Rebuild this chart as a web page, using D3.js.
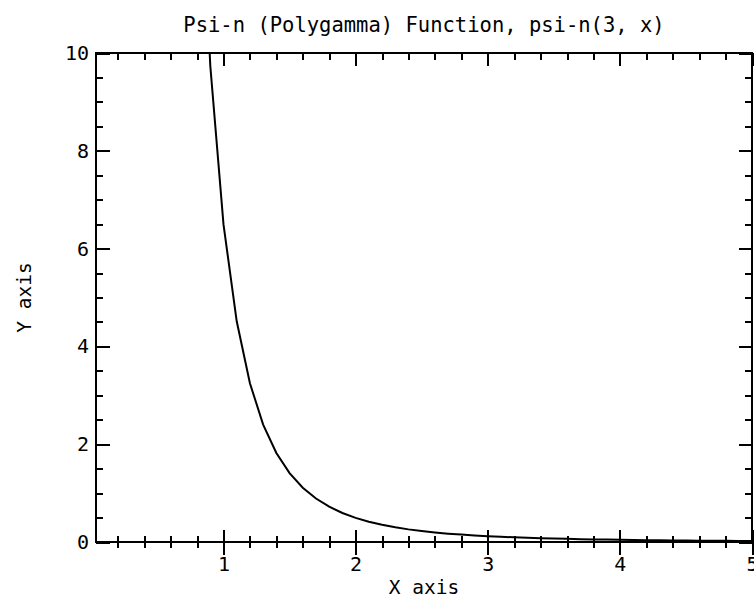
<html>
<head>
    <script src="https://d3js.org/d3.v7.min.js"></script>
    <style>
        body { margin: 0; background: #fff; }
        text { font-family: "DejaVu Sans Mono", "Liberation Mono", monospace; fill: #000; }
    </style>
</head>
<body>
    <div id="chart">
        <svg width=754 height=598></svg>
    </div>
    <script>
        var xValues = [0.8, 0.9, 1.0, 1.1, 1.2, 1.3, 1.4, 1.5, 1.6, 1.7, 1.8, 1.9,
            2.0, 2.1, 2.2, 2.3, 2.4, 2.5, 2.6, 2.7, 2.8, 2.9,
            3.0, 3.1, 3.2, 3.3, 3.4, 3.5, 3.6, 3.7, 3.8, 3.9,
            4.0, 4.1, 4.2, 4.3, 4.4, 4.5, 4.6, 4.7, 4.8, 4.9, 5.0]
        var yValues = [15.37, 9.739, 6.494, 4.513, 3.245, 2.401, 1.820, 1.409, 1.111, 0.890, 0.722, 0.594,
            0.494, 0.415, 0.351, 0.300, 0.258, 0.224, 0.195, 0.171, 0.151, 0.134,
            0.119, 0.106, 0.095, 0.086, 0.078, 0.070, 0.064, 0.058, 0.053, 0.049,
            0.045, 0.041, 0.038, 0.035, 0.033, 0.030, 0.028, 0.026, 0.025, 0.023, 0.021]

        var xMajor = [1, 2, 3, 4, 5]
        var xMinor = [0.2, 0.4, 0.6, 0.8, 1.2, 1.4, 1.6, 1.8, 2.2, 2.4, 2.6, 2.8,
            3.2, 3.4, 3.6, 3.8, 4.2, 4.4, 4.6, 4.8]
        var yMajor = [0, 2, 4, 6, 8, 10]
        var yMinor = [0.5, 1, 1.5, 2.5, 3, 3.5, 4.5, 5, 5.5, 6.5, 7, 7.5, 8.5, 9, 9.5]

        var titleText = "Psi-n (Polygamma) Function, psi-n(3, x)"
        var xTitle = "X axis"
        var yTitle = "Y axis"

        // plot box (window.top is taken, so prefixed names)
        var boxL = 96, boxR = 752, boxT = 53, boxB = 542

        var svg = d3.select('#chart svg')

        var xScale = d3.scaleLinear()
            .domain([0.035, 5])
            .range([boxL, boxR])

        var yScale = d3.scaleLinear()
            .domain([0, 10])
            .range([boxB, boxT]) // y is flipped in the browser

        // curve, clipped to the plot box
        svg.append("clipPath")
            .attr("id", "box")
            .append("rect")
            .attr("x", boxL)
            .attr("y", boxT)
            .attr("width", boxR - boxL)
            .attr("height", boxB - boxT)

        var points = xValues.map(function(d, i) {
            return [d, yValues[i]]
        })

        var line = d3.line()
            .x(function(d) { return xScale(d[0]) })
            .y(function(d) { return yScale(d[1]) })

        svg.append("path")
            .datum(points)
            .attr("clip-path", "url(#box)")
            .attr("d", line)
            .attr("fill", "none")
            .attr("stroke", "#000")
            .attr("stroke-width", 2)

        // axes: ticks only, the frame is drawn afterwards
        function tickAxis(axis, tx, ty) {
            var g = svg.append("g")
                .attr("transform", "translate(" + tx + "," + ty + ")")
                .call(axis)
            g.select(".domain").remove()
            g.selectAll("line").attr("stroke-width", 2).attr("shape-rendering", "crispEdges")
            g.attr("font-family", null)
            g.selectAll("text").attr("font-size", 20)
            return g
        }

        // bottom ticks cross the axis line
        tickAxis(d3.axisBottom(xScale).tickValues(xMinor).tickSize(12).tickFormat(""), 0, boxB - 6)
        tickAxis(d3.axisBottom(xScale).tickValues(xMajor).tickSize(25).tickPadding(2).tickFormat(d3.format("d")), 0, boxB - 12.5)

        tickAxis(d3.axisTop(xScale).tickValues(xMinor).tickSize(-7).tickFormat(""), 0, boxT)
        tickAxis(d3.axisTop(xScale).tickValues(xMajor).tickSize(-13).tickFormat(""), 0, boxT)

        tickAxis(d3.axisLeft(yScale).tickValues(yMinor).tickSize(-7).tickFormat(""), boxL, 0)
        tickAxis(d3.axisLeft(yScale).tickValues(yMajor).tickSize(-14).tickPadding(7).tickFormat(d3.format("d")), boxL, 0)

        tickAxis(d3.axisRight(yScale).tickValues(yMinor).tickSize(-7).tickFormat(""), boxR, 0)
        tickAxis(d3.axisRight(yScale).tickValues(yMajor).tickSize(-13).tickFormat(""), boxR, 0)

        svg.append("rect")
            .attr("x", boxL)
            .attr("y", boxT)
            .attr("width", boxR - boxL)
            .attr("height", boxB - boxT)
            .attr("fill", "none")
            .attr("stroke", "#000")
            .attr("stroke-width", 2)
            .attr("shape-rendering", "crispEdges")

        // titles
        svg.append("text")
            .attr("x", (boxL + boxR) / 2)
            .attr("y", 32)
            .attr("text-anchor", "middle")
            .attr("font-size", 20.5)
            .text(titleText)

        svg.append("text")
            .attr("x", (boxL + boxR) / 2)
            .attr("y", 594)
            .attr("text-anchor", "middle")
            .attr("font-size", 19.5)
            .text(xTitle)

        svg.append("text")
            .attr("transform", "translate(31," + (boxT + boxB) / 2 + ") rotate(-90)")
            .attr("text-anchor", "middle")
            .attr("font-size", 19.5)
            .text(yTitle)
    </script>
</body>
</html>
